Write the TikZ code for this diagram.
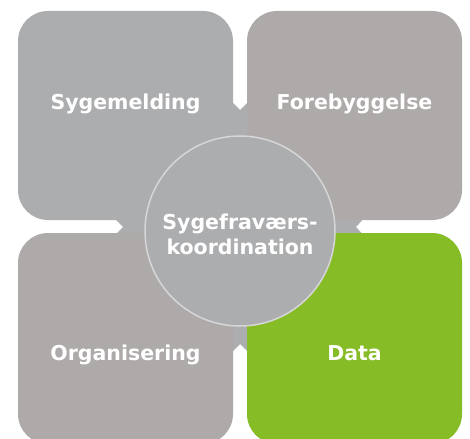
\documentclass[tikz,border=0pt]{standalone}
\usepackage{fontspec}
\setmainfont{DejaVu Sans}
\definecolor{lgray}{HTML}{ACADAF}
\definecolor{wgray}{HTML}{AEAAA9}
\definecolor{dgreen}{HTML}{86BC25}
\definecolor{ringc}{HTML}{D6D6D8}
\tikzset{
  quad/.style={rectangle, rounded corners=30pt, minimum width=215pt, minimum height=209pt, inner sep=0pt, draw=none},
  lbl/.style={font=\bfseries\fontsize{20.5pt}{25pt}\selectfont, text=white, inner sep=0pt, anchor=base},
}
\begin{document}
\begin{tikzpicture}[x=1pt,y=-1pt]
\useasboundingbox (0,0) rectangle (470,438);
\clip (0,0) rectangle (470,438);
% background cross with notched ends
\fill[lgray] (228,98) -- (240,110) -- (252,98) -- (252,215)
  -- (367,215) -- (356,227) -- (367,239) -- (252,239)
  -- (252,356) -- (240,344) -- (228,356) -- (228,239)
  -- (111,239) -- (123,227) -- (111,215) -- (228,215) -- cycle;
\node[quad, fill=lgray] (sm) at (125.5,115.5) {};
\node[quad, fill=wgray] (fo) at (354.5,115.5) {};
\node[quad, fill=wgray, minimum height=211pt] (og) at (125.5,338.5) {};
\node[quad, fill=dgreen, minimum height=211pt] (da) at (354.5,338.5) {};
\node[circle, fill=lgray, draw=ringc, line width=1.5pt, minimum size=190pt, inner sep=0pt] (center) at (240,231) {};
\node[lbl] (tsm) at (125.5,110) {Sygemelding};
\node[lbl] (tfo) at (354.5,110) {Forebyggelse};
\node[lbl] (tog) at (125.5,360) {Organisering};
\node[lbl] (tda) at (354.5,360) {Data};
\node[lbl, anchor=center, align=center] (tc) at (240,234.7) {Sygefraværs-\\koordination};
\end{tikzpicture}
\end{document}
